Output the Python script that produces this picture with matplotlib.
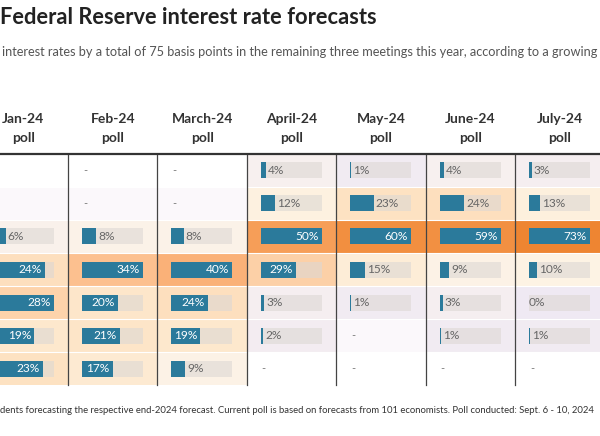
import numpy as np
import matplotlib
matplotlib.use("Agg")
import matplotlib.pyplot as plt
from matplotlib.colors import LinearSegmentedColormap, Normalize
from matplotlib.patches import Rectangle

# ---------------- data ----------------
polls = ["Jan-24", "Feb-24", "March-24", "April-24", "May-24", "June-24", "July-24"]
# share of respondents (%) per end-2024 rate bucket (rows, top to bottom); None = "-"
jan = [None, None, 6, 24, 28, 19, 23]
feb = [None, None, 8, 34, 20, 21, 17]
mar = [None, None, 8, 40, 24, 19, 9]
apr = [4, 12, 50, 29, 3, 2, None]
may = [1, 23, 60, 15, 1, None, None]
jun = [4, 24, 59, 9, 3, 1, None]
jul = [3, 13, 73, 10, 0, 1, None]
columns = [jan, feb, mar, apr, may, jun, jul]

title = "Federal Reserve interest rate forecasts"
subtitle = ("interest rates by a total of 75 basis points in the remaining three "
            "meetings this year, according to a growing")
footnote = ("dents forecasting the respective end-2024 forecast. Current poll is based on "
            "forecasts from 101 economists. Poll conducted: Sept. 6 - 10, 2024")

# ---------------- style ----------------
FONT = "Lato"
plt.rcParams["font.family"] = [FONT, "DejaVu Sans"]
BAR = "#2b7a9b"
TRACK = "#ddd8d4"
heat = LinearSegmentedColormap.from_list(
    "heat",
    [(0.0, "#efe9f3"), (0.05, "#f7f0ef"), (0.14, "#fdf3e3"), (0.3, "#fde3c4"),
     (0.45, "#fcc190"), (0.6, "#f8a564"), (0.8, "#f28f40"), (1.0, "#ee8430")])
norm = Normalize(0, 75)

W, H = 600, 436
fig = plt.figure(figsize=(W / 100, H / 100), dpi=100)
fig.patch.set_facecolor("white")

# table geometry (pixels)
COL_W = 89.4
X0 = -21.4      # left edge of first column
ROW_H = 33.0
Y0 = 154.0      # header rule
nrows = len(jan)

ax = fig.add_axes([0, 0, 1, 1])
XMIN = (0 - X0) / COL_W
ax.set_xlim(XMIN, (W - X0) / COL_W)
ax.set_ylim((H - Y0) / ROW_H, (0 - Y0) / ROW_H)
ax.axis("off")

TRACK_L = 14 / COL_W
TRACK_W = 61 / COL_W
BAR_H = 16 / ROW_H
LBL = 8.6

for c, vals in enumerate(columns):
    cmax = max(v for v in vals if v is not None)
    for r, v in enumerate(vals):
        if v is None:
            bg = "#fbf8fb" if r % 2 == 1 else "white"
        else:
            bg = heat(norm(v))
        ax.add_patch(Rectangle((c, r), 1, 1, facecolor=bg, edgecolor="none", zorder=1))
        yc = r + 0.5
        if v is None:
            xd = c + TRACK_L + 0.01
            if xd > XMIN:
                ax.text(xd, yc, "-", ha="left", va="center",
                        fontsize=8, color="#777777", zorder=5)
            continue
        ax.add_patch(Rectangle((c + TRACK_L, yc - BAR_H / 2), TRACK_W, BAR_H,
                               facecolor=TRACK, alpha=0.6, edgecolor="none", zorder=2))
        frac = v / cmax
        blen = frac * TRACK_W
        if v > 0:
            ax.add_patch(Rectangle((c + TRACK_L, yc - BAR_H / 2), blen, BAR_H,
                                   facecolor=BAR, edgecolor="none", zorder=3))
        label = f"{v}%"
        if frac > 0.42:
            ax.text(c + TRACK_L + blen - 3 / COL_W, yc, label, ha="right", va="center",
                    fontsize=LBL, color="white", zorder=5)
        else:
            ax.text(c + TRACK_L + blen + (2 if v > 0 else 0) / COL_W, yc, label,
                    ha="left", va="center", fontsize=LBL, color="#666666", zorder=5)

# white row separators
for r in range(1, nrows):
    ax.plot([0, len(columns)], [r, r], color="white", lw=0.8, zorder=1.5)
# column dividers
for c in range(1, len(columns)):
    ax.plot([c, c], [0, nrows], color="#444444", lw=0.9, zorder=4)
# header rule
ax.plot([0, len(columns)], [0, 0], color="#333333", lw=1.6, zorder=4)

# headers
for c, name in enumerate(polls):
    ax.text(c + 0.5, (119 - Y0) / ROW_H, name, ha="center", va="center",
            fontsize=10, fontweight="bold", color="#333333")
    ax.text(c + 0.5, (138 - Y0) / ROW_H, "poll", ha="center", va="center",
            fontsize=10, fontweight="bold", color="#333333")

# titles
t1 = fig.text(0 / W, 1 - 18 / H, title, ha="left", va="center", fontsize=15,
              fontweight="bold", color="#222222")
t2 = fig.text(2 / W, 1 - 52 / H, subtitle, ha="left", va="center", fontsize=10,
              color="#555555")
t3 = fig.text(0 / W, 1 - 410 / H, footnote, ha="left", va="center", fontsize=8,
              color="#333333")

# fit text widths to the reference widths (pixels)
renderer = fig.canvas.get_renderer()
for t, target in [(t1, 378), (t2, 595), (t3, 597)]:
    w = t.get_window_extent(renderer).width
    t.set_fontsize(t.get_fontsize() * target / w)

fig.savefig("out.png", dpi=100, facecolor="white")
